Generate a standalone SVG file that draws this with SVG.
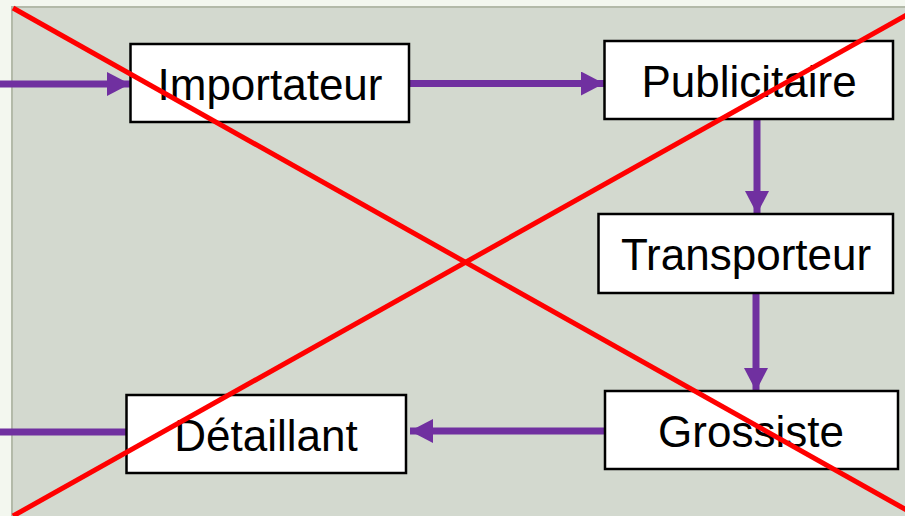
<svg xmlns="http://www.w3.org/2000/svg" width="905" height="516" viewBox="0 0 905 516">
<defs>
<style>
.box{fill:#ffffff;stroke:#000000;stroke-width:2.5}
.lbl{font-family:"Liberation Sans",Arial,sans-serif;font-size:44px;fill:#000000;text-anchor:middle}
.conn{stroke:#7030a0;stroke-width:7;fill:none}
.cross{stroke:#ff0000;stroke-width:5;fill:none}
</style>
<marker id="ah" viewBox="0 0 23 24" refX="23" refY="12" markerWidth="23" markerHeight="24" markerUnits="userSpaceOnUse" orient="auto">
<path d="M0,0 L23,12 L0,24 Z" fill="#7030a0"/>
</marker>
</defs>
<rect x="0" y="0" width="905" height="516" fill="#f3f7ef"/>
<rect x="12" y="7" width="900" height="520" fill="#d3d9cf" stroke="#b3baa9" stroke-width="2"/>
<g id="connectors">
<line class="conn" x1="0" y1="84" x2="130" y2="84" marker-end="url(#ah)"/>
<line class="conn" x1="409" y1="83.5" x2="604" y2="83.5" marker-end="url(#ah)"/>
<line class="conn" x1="757" y1="119" x2="757" y2="214" marker-end="url(#ah)"/>
<line class="conn" x1="756" y1="293" x2="756" y2="391" marker-end="url(#ah)"/>
<line class="conn" x1="605" y1="431" x2="410" y2="431" marker-end="url(#ah)"/>
<line class="conn" x1="126" y1="432" x2="0" y2="432"/>
</g>
<g id="importateur">
<rect class="box" x="130.5" y="44" width="278.5" height="78"/>
<text class="lbl" x="270" y="100">Importateur</text>
</g>
<g id="publicitaire">
<rect class="box" x="604.5" y="41" width="288.5" height="78"/>
<text class="lbl" x="749" y="97">Publicitaire</text>
</g>
<g id="transporteur">
<rect class="box" x="598.5" y="214" width="294.5" height="79"/>
<text class="lbl" x="746" y="270">Transporteur</text>
</g>
<g id="grossiste">
<rect class="box" x="605" y="391" width="293" height="78"/>
<text class="lbl" x="751" y="447">Grossiste</text>
</g>
<g id="detaillant">
<rect class="box" x="126.5" y="395" width="279.5" height="78"/>
<text class="lbl" x="266" y="451">Détaillant</text>
</g>
<g id="cross">
<line class="cross" x1="13" y1="8" x2="910" y2="512"/>
<line class="cross" x1="13" y1="516" x2="910" y2="13"/>
</g>
</svg>
